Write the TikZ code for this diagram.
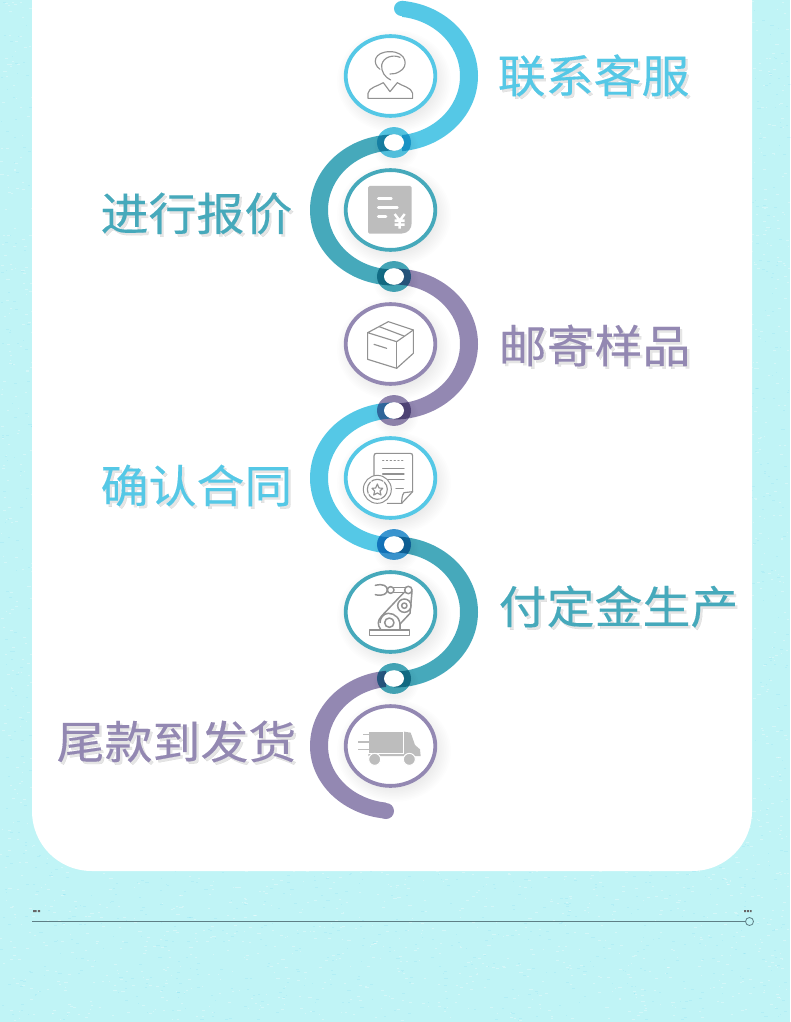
\documentclass[tikz,border=0pt]{standalone}
\usepackage{fontspec}
\newfontfamily\cjk[FakeBold=0.2]{Noto Sans CJK SC}
\usetikzlibrary{calc}
\definecolor{cblue}{HTML}{55C8E6}
\definecolor{cteal}{HTML}{46A9BB}
\definecolor{cpurp}{HTML}{9388B2}
\definecolor{cdeep}{HTML}{3C9AD6}
\definecolor{cbg}{HTML}{C0F4F6}
\definecolor{cicon}{HTML}{929292}
\definecolor{cfill}{HTML}{BDBDBD}
\definecolor{cfoot}{HTML}{5E7F86}
\tikzset{
  iconline/.style={draw=cicon,line width=1.15pt,line join=round,line cap=round,fill=none},
  iconfill/.style={fill=cfill,draw=none},
  zoomA/.style={shift={(300,0)},scale=0.33333},
  zoomB/.style={shift={(300,290)},scale=0.33333},
  zoomC/.style={shift={(300,550)},scale=0.33333},
  lbl/.style={font=\cjk\fontsize{45}{45}\selectfont,inner sep=0pt,xscale=1.065,transform shape},
}
% half ring: #1 colour, #2 centre y, #3 side (+1 right, -1 left), #4 bottom outer radius, #5 bottom inner radius
\newcommand{\halfring}[5]{%
  \fill[#1] (394,#2-75.5) .. controls ($(394,#2-75.5)+(#3*46.4,0)$) and ($(394,#2-41.7)+(#3*84,0)$) .. ($(394,#2)+(#3*84,0)$)
    .. controls ($(394,#2+0.5523*#4)+(#3*84,0)$) and ($(394,#2+#4)+(#3*46.4,0)$) .. (394,#2+#4)
    -- (394,#2+#5) .. controls ($(394,#2+#5)+(#3*36.5,0)$) and ($(394,#2+0.5523*#5)+(#3*66,0)$) .. ($(394,#2)+(#3*66,0)$)
    .. controls ($(394,#2-32.9)+(#3*66,0)$) and ($(394,#2-59.5)+(#3*36.5,0)$) .. (394,#2-59.5) -- cycle;}
\newcommand{\shadowtext}[6]{%
  \node[lbl,anchor=#1,text=black,opacity=0.1] (#6s) at (#2+2.4,#3+2.6) {#4};
  \node[lbl,anchor=#1,text=#5] (#6) at (#2,#3) {#4};}
\begin{document}
\begin{tikzpicture}[x=1pt,y=-1pt]
\useasboundingbox (0,0) rectangle (790,1022);
\fill[cbg] (0,0) rectangle (790,1022);
% paper texture
\pgfmathsetseed{42}
\foreach \i in {1,...,5000}{
  \pgfmathsetmacro{\xx}{rnd*788}\pgfmathsetmacro{\yy}{rnd*1020}\pgfmathsetmacro{\ww}{1+rnd*2.5}
  \fill[white,opacity=0.3] (\xx,\yy) rectangle (\xx+\ww,\yy+1);
}
\foreach \i in {1,...,3000}{
  \pgfmathsetmacro{\xx}{rnd*788}\pgfmathsetmacro{\yy}{rnd*1020}\pgfmathsetmacro{\ww}{1+rnd*2.5}
  \fill[cyan,opacity=0.07] (\xx,\yy) rectangle (\xx+\ww,\yy+1);
}
% panel
\fill[white] (32,-20) -- (752,-20) -- (752,811) .. controls (752,844) and (726,871) .. (692,871)
  -- (92,871) .. controls (58,871) and (32,844) .. (32,811) -- cycle;
% arcs
\begin{scope}
  \clip (402,-5) rectangle (500,160);
  \halfring{cblue}{76}{1}{75.5}{59.5}
\end{scope}
\fill[cblue] (402,8.5) ellipse [x radius=8,y radius=7.6];
\halfring{cteal}{210}{-1}{75.5}{59.5}
\halfring{cpurp}{344}{1}{75.5}{59.5}
\halfring{cblue}{478}{-1}{75.5}{59.5}
\halfring{cteal}{612}{1}{75.5}{59.5}
\begin{scope}
  \clip (290,660) rectangle (386,830);
  \halfring{cpurp}{746}{-1}{73}{57}
\end{scope}
\fill[cpurp] (386,811) ellipse [x radius=8,y radius=8];
% ring shadows
\foreach \yy in {143,277,411,545,679}{
  \foreach \k in {1,...,6}{\fill[black,opacity=0.006] (396,\yy+5) ellipse [x radius=13+\k*1.6,y radius=12+\k*1.5];}
}
% junction rings
\begin{scope}[blend mode=multiply]
  \fill[cblue] (394,142.5) ellipse [x radius=17,y radius=15.4];
  \fill[cteal] (394,276.5) ellipse [x radius=17,y radius=15.4];
  \fill[cpurp] (394,410.5) ellipse [x radius=17,y radius=15.4];
  \fill[cdeep] (394,544.5) ellipse [x radius=17,y radius=15.4];
  \fill[cteal] (394,678.5) ellipse [x radius=17,y radius=15.4];
\end{scope}
\foreach \yy in {142.5,276.5,410.5,544.5,678.5}{
  \fill[white] (394,\yy) ellipse [x radius=10,y radius=8.3];
}
% badges
\foreach \cy/\cc in {76/cblue,210/cteal,344/cpurp,478/cblue,612/cteal,746/cpurp}{
  \foreach \k in {1,...,10}{\fill[black,opacity=0.006] (394,\cy+5) ellipse [x radius=40+\k*1.7,y radius=36+\k*1.5];}
  \filldraw[draw=\cc,line width=3.8pt,fill=white] (390.5,\cy) ellipse [x radius=44.8,y radius=39.9];
}
% icon 1: agent
\begin{scope}[zoomA]
  \draw[iconline] (240,208) .. controls (215,190) and (222,155) .. (270,155) .. controls (320,155) and (328,200) .. (298,215) .. controls (288,221) and (280,222) .. (270,222);
  \draw[iconline] (300,172) .. controls (280,163) and (250,170) .. (245,195) .. controls (243,215) and (255,232) .. (272,240);
  \draw[iconline] (204,295) -- (204,280) .. controls (206,262) and (235,258) .. (250,248) -- (270,275) -- (292,248) .. controls (305,258) and (335,262) .. (338,280) -- (338,295) -- cycle;
\end{scope}
% icon 2: invoice
\begin{scope}[zoomA]
  \fill[iconfill,rounded corners=1.5pt] (204,558) -- (335,558) -- (335,665) .. controls (335,685) and (325,700) .. (300,701) -- (204,701) -- cycle;
  \draw[white,line width=2.8pt,line cap=round] (235,596) -- (274,596) (235,622) -- (292,622) (235,650) -- (258,650);
  \draw[white,line width=2.4pt] (284,642) -- (299,662) -- (314,642) (299,662) -- (299,686) (284,662) -- (314,662) (284,674) -- (314,674);
\end{scope}
% icon 3: box
\begin{scope}[zoomB]
  \draw[iconline] (203,128) -- (265,95) -- (340,120) -- (290,155) -- cycle;
  \draw[iconline] (203,128) -- (203,208) -- (290,235) -- (340,190) -- (340,120);
  \draw[iconline] (290,155) -- (290,235);
  \draw[iconline] (238,110) -- (312,138);
  \draw[iconline] (222,163) -- (260,175);
\end{scope}
% icon 4: certificate
\begin{scope}[zoomB]
  \draw[iconline] (222,558) -- (222,498) .. controls (222,492) and (225,490) .. (230,490) -- (330,490) .. controls (335,490) and (338,492) .. (338,498) -- (338,605) -- (305,640) -- (262,640);
  \draw[iconline] (338,605) -- (312,608) .. controls (306,615) and (305,630) .. (305,640);
  \draw[iconline,dash pattern=on 1.2pt off 2.6pt] (248,512) -- (312,512);
  \draw[iconline] (248,535) -- (312,535) (248,552) -- (312,552) (265,568) -- (312,568) (288,595) -- (310,595);
  \filldraw[draw=cicon,line width=1pt,fill=white] (232,598) circle [radius=42];
  \draw[iconline,dash pattern=on 12pt off 1.6pt] (232,598) circle [radius=30];
  \draw[iconline] (232,582) -- (237,594) -- (248,595) -- (240,603) -- (243,615) -- (232,609) -- (221,615) -- (224,603) -- (216,595) -- (227,594) -- cycle;
\end{scope}
% icon 5: robot arm
\begin{scope}[zoomC]
  \draw[iconline,line width=1.5pt] (208,240) rectangle (328,256);
  \draw[iconline,line width=1.5pt] (242,238) .. controls (232,225) and (232,212) .. (245,198) -- (297,143) -- (314,126) (300,238) -- (300,222) -- (330,190) -- (336,125);
  \draw[iconline,line width=1.5pt] (300,238) .. controls (304,205) and (285,190) .. (265,190) .. controls (250,190) and (240,205) .. (240,218);
  \draw[iconline,line width=1.5pt] (268,218) circle [radius=14];
  \filldraw[draw=cicon,line width=1.5pt,fill=white] (313,167) circle [radius=20];
  \draw[iconline,line width=1.5pt] (313,167) circle [radius=8];
  \filldraw[draw=cicon,line width=1.5pt,fill=white] (325,120) circle [radius=11];
  \draw[iconline,line width=1.5pt] (282,112) -- (314,112) (282,128) -- (314,128);
  \draw[iconline,line width=1.5pt] (272,120) circle [radius=10];
  \draw[iconline,line width=1.5pt] (226,106) .. controls (250,100) and (262,108) .. (262,120) .. controls (262,130) and (250,140) .. (226,134);
\end{scope}
% icon 6: truck
\begin{scope}[zoomC]
  \fill[iconfill] (208,545) rectangle (308,610);
  \fill[iconfill] (312,545) -- (332,548) -- (345,585) -- (360,598) -- (362,618) -- (205,618) -- (205,612) -- (312,612) -- cycle;
  \filldraw[draw=white,line width=1pt,fill=cfill] (224,628) circle [radius=18];
  \filldraw[draw=white,line width=1pt,fill=cfill] (328,628) circle [radius=18];
  \draw[cfill,line width=1.5pt] (190,553) -- (208,553) (175,576) -- (208,576) (175,598) -- (208,598);
\end{scope}
% labels
\shadowtext{west}{497.5}{75.5}{联系客服}{cblue}{la}
\shadowtext{east}{292.5}{213.5}{进行报价}{cteal}{lb}
\shadowtext{west}{498.5}{345.5}{邮寄样品}{cpurp}{lc}
\shadowtext{east}{292.5}{485.5}{确认合同}{cblue}{ld}
\shadowtext{west}{498.5}{606.5}{付定金生产}{cteal}{le}
\shadowtext{east}{296.5}{741.5}{尾款到发货}{cpurp}{lf}
% footer
\coordinate (fl) at (32,921.5);
\node[draw=cfoot,line width=0.8pt,circle,minimum size=8pt,inner sep=0pt] (fc) at (749.5,921.5) {};
\draw[draw=cfoot,line width=0.8pt] (fl) -- (fc);
\fill[black!60] (33,910) rectangle (36.6,912) (37.8,910) rectangle (40,912);
\fill[black!60] (744.2,910) rectangle (746,912) (747,910) rectangle (748.8,912) (749.8,910) rectangle (751.6,912);
\end{tikzpicture}
\end{document}
